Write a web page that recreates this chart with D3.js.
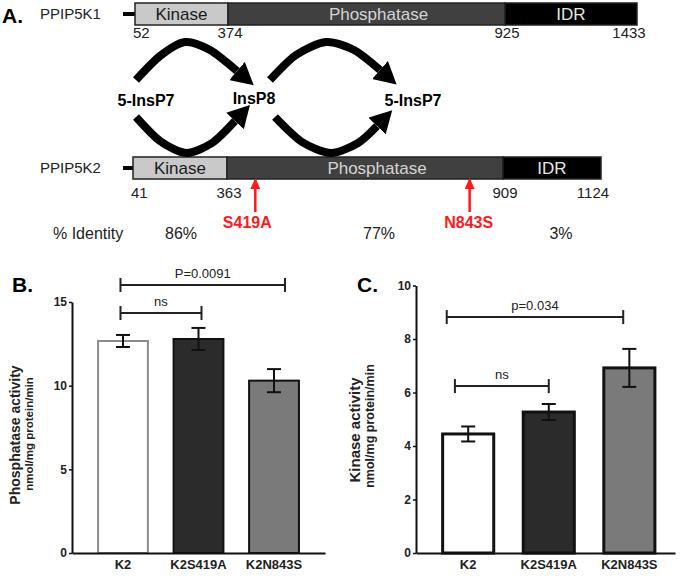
<!DOCTYPE html>
<meta charset="utf-8">
<script src="https://d3js.org/d3.v7.min.js"></script>
<style>
  body { margin: 0; background: #fff; }
  svg text { font-family: "Liberation Sans", Arial, sans-serif; }
</style>
<div id="fig"></div>
<script>

// ---- values ----
var groups = ["K2", "K2S419A", "K2N843S"];
var phosMean = [12.67, 12.79, 10.3];
var phosSem = [0.36, 0.66, 0.69];
var kinMean = [4.45, 5.27, 6.92];
var kinSem = [0.28, 0.30, 0.71];
var phosTicks = [0, 5, 10, 15];
var kinTicks = [0, 2, 4, 6, 8, 10];
var phosStats = [{a: 0, b: 1, level: 14.34, label: "ns"}, {a: 0, b: 2, level: 16.02, label: "P=0.0091"}];
var kinStats = [{a: 0, b: 1, level: 6.24, label: "ns"}, {a: 0, b: 2, level: 8.82, label: "p=0.034"}];

var domainNames = ["Kinase", "Phosphatase", "IDR"];
var k1Bounds = [52, 374, 925, 1433];
var k2Bounds = [41, 363, 909, 1124];
var identity = ["86%", "77%", "3%"];
var mutations = [419, 843];
var mutationLabels = ["S419A", "N843S"];
var species = ["5-InsP7", "InsP8", "5-InsP7"];

// ---- styles ----
var domainFill = ["#c9c9c9", "#404040", "#000000"];
var domainText = ["#1a1a1a", "#d4d4d4", "#e6e6e6"];
var domainTextDx = [0, 12, 0];
var barFill = ["#ffffff", "#2b2b2b", "#7a7a7a"];
var red = "#ff1a1a";

var svg = d3.select("#fig").append("svg")
    .attr("width", 685)
    .attr("height", 576);
svg.append("rect").attr("width", 685).attr("height", 576).attr("fill", "white");

var defs = svg.append("defs");
defs.append("marker")
    .attr("id", "head")
    .attr("viewBox", "0 -12 22 24")
    .attr("refX", 0).attr("refY", 0)
    .attr("markerUnits", "userSpaceOnUse")
    .attr("markerWidth", 22).attr("markerHeight", 24)
    .attr("orient", "auto")
  .append("path").attr("d", "M0,-12L22,0L0,12Z").attr("fill", "black");
defs.append("marker")
    .attr("id", "redhead")
    .attr("viewBox", "0 -5 11 10")
    .attr("refX", 9).attr("refY", 0)
    .attr("markerUnits", "userSpaceOnUse")
    .attr("markerWidth", 11).attr("markerHeight", 10)
    .attr("orient", "auto")
  .append("path").attr("d", "M0,-5L11,0L0,5Z").attr("fill", red);

// ================= A. domain diagram =================
svg.append("text").attr("x", 2).attr("y", 23)
    .attr("font-size", 21).attr("font-weight", "bold").text("A.");

function proteinBar(name, bounds, range, top, numY) {
  var h = 22, mid = top + h / 2;
  var x = d3.scaleLinear().domain(bounds).range(range);
  var g = svg.append("g");
  g.append("text").attr("x", 40).attr("y", mid).attr("dy", "0.35em")
      .attr("font-size", 15).attr("fill", "#222").text(name);
  g.append("line").attr("x1", 123).attr("x2", range[0]).attr("y1", mid).attr("y2", mid)
      .attr("stroke", "black").attr("stroke-width", 4);
  var segs = domainNames.map(function(d, i) { return {name: d, s: bounds[i], e: bounds[i + 1], i: i}; });
  g.selectAll("rect").data(segs).join("rect")
      .attr("x", function(d) { return x(d.s); })
      .attr("width", function(d) { return x(d.e) - x(d.s); })
      .attr("y", top).attr("height", h)
      .attr("fill", function(d) { return domainFill[d.i]; })
      .attr("stroke", "#222").attr("stroke-width", 1.5);
  g.selectAll("text.dom").data(segs).join("text").attr("class", "dom")
      .attr("x", function(d) { return (x(d.s) + x(d.e)) / 2 + domainTextDx[d.i]; })
      .attr("y", mid).attr("dy", "0.35em")
      .attr("text-anchor", "middle").attr("font-size", 17)
      .attr("fill", function(d) { return domainText[d.i]; })
      .text(function(d) { return d.name; });
  var n = bounds.length;
  g.selectAll("text.num").data(bounds).join("text").attr("class", "num")
      .attr("x", function(d, i) { return i == 0 ? x(d) - 2 : (i == n - 1 ? x(d) - 8 : x(d) + 2); })
      .attr("text-anchor", function(d, i) { return i == 0 ? "start" : "middle"; })
      .attr("y", numY).attr("dy", "0.35em")
      .attr("font-size", 15).attr("fill", "#222")
      .text(function(d) { return d; });
  return x;
}

var k1x = proteinBar("PPIP5K1", k1Bounds, [135, 228, 505, 637], 3, 33);
var k2x = proteinBar("PPIP5K2", k2Bounds, [133, 227, 503, 601], 157, 193);

// reaction scheme
var spX = [146, 254, 413];
svg.selectAll("text.sp").data(species).join("text").attr("class", "sp")
    .attr("x", function(d, i) { return spX[i]; })
    .attr("y", function(d, i) { return i == 1 ? 98 : 100; })
    .attr("dy", "0.35em").attr("text-anchor", "middle")
    .attr("font-size", 16).attr("font-weight", "bold").text(function(d) { return d; });

var arcs = [
  [[136, 80], [160, 56], [185, 42], [210, 50], [237, 71]],
  [[136, 117], [160, 141], [186, 153], [212, 143], [235, 121]],
  [[270, 80], [296, 55], [326, 42], [354, 50], [380, 70]],
  [[275, 117], [302, 142], [331, 153], [358, 143], [377, 126]]
];
var arcLine = d3.line().curve(d3.curveCardinal.tension(0.2));
svg.selectAll("path.arc").data(arcs).join("path").attr("class", "arc")
    .attr("d", arcLine)
    .attr("fill", "none").attr("stroke", "black").attr("stroke-width", 8)
    .attr("marker-end", "url(#head)");

// mutations on PPIP5K2
mutations.forEach(function(m, i) {
  var mx = k2x(m);
  svg.append("line").attr("x1", mx).attr("x2", mx).attr("y1", 212).attr("y2", 180)
      .attr("stroke", red).attr("stroke-width", 2.5).attr("marker-end", "url(#redhead)");
  svg.append("text").attr("x", mx - (i == 0 ? 8 : 1)).attr("y", 222).attr("dy", "0.35em")
      .attr("text-anchor", "middle").attr("font-size", 16).attr("font-weight", "bold")
      .attr("fill", red).text(mutationLabels[i]);
});

// % identity row
svg.append("text").attr("x", 53).attr("y", 233).attr("dy", "0.35em")
    .attr("font-size", 16).attr("fill", "#222").text("% Identity");
var idX = [k2x(k2Bounds[0]), k2x(k2Bounds[1]), k2x(k2Bounds[2]), k2x(k2Bounds[3])];
svg.selectAll("text.id").data(identity).join("text").attr("class", "id")
    .attr("x", function(d, i) { return (idX[i] + idX[i + 1]) / 2 + [1, 14, 9][i]; })
    .attr("y", 233).attr("dy", "0.35em").attr("text-anchor", "middle")
    .attr("font-size", 16).attr("fill", "#222").text(function(d) { return d; });

// ================= B. / C. bar charts =================
function barPanel(o) {
  var g = svg.append("g");
  var y = d3.scaleLinear().domain([0, o.max]).range([553, o.top]);
  var x = d3.scaleBand().domain(groups).range([o.left, o.right])
      .paddingInner(o.pi).paddingOuter(o.po).align(o.align);
  var bw = x.bandwidth();

  g.append("text").attr("x", o.letterX).attr("y", 285).attr("dy", "0.35em")
      .attr("font-size", 21).attr("font-weight", "bold").text(o.letter);

  // bars
  var rows = groups.map(function(d, i) { return {g: d, m: o.mean[i], s: o.sem[i], i: i}; });
  g.selectAll("rect").data(rows).join("rect")
      .attr("x", function(d) { return x(d.g); })
      .attr("width", bw)
      .attr("y", function(d) { return y(d.m); })
      .attr("height", function(d) { return y(0) - y(d.m); })
      .attr("fill", function(d) { return barFill[d.i]; })
      .attr("stroke", function(d) { return o.barStroke[d.i]; })
      .attr("stroke-width", o.barStrokeW);

  // error bars
  var eb = g.selectAll("g.err").data(rows).join("g").attr("class", "err")
      .attr("stroke", "#111").attr("stroke-width", 2);
  eb.append("line")
      .attr("x1", function(d) { return x(d.g) + bw / 2; })
      .attr("x2", function(d) { return x(d.g) + bw / 2; })
      .attr("y1", function(d) { return y(d.m - d.s); })
      .attr("y2", function(d) { return y(d.m + d.s); });
  [-1, 1].forEach(function(sgn) {
    eb.append("line")
        .attr("x1", function(d) { return x(d.g) + bw / 2 - 7; })
        .attr("x2", function(d) { return x(d.g) + bw / 2 + 7; })
        .attr("y1", function(d) { return y(d.m + sgn * d.s); })
        .attr("y2", function(d) { return y(d.m + sgn * d.s); });
  });

  // axes
  var ya = g.append("g").attr("transform", "translate(" + o.left + ",0)")
      .call(d3.axisLeft(y).tickValues(o.ticks).tickSize(3).tickPadding(2).tickSizeOuter(0));
  ya.select(".domain").attr("stroke", "#111").attr("stroke-width", 2);
  ya.selectAll(".tick line").attr("stroke", "#111").attr("stroke-width", 1.5);
  ya.selectAll(".tick text").attr("font-size", 12).attr("font-weight", "bold").attr("fill", "#222")
      .style("font-family", "'Liberation Sans', Arial, sans-serif");

  var xa = g.append("g").attr("transform", "translate(0," + y(0) + ")")
      .call(d3.axisBottom(x).tickSize(0).tickPadding(7).tickSizeOuter(0));
  xa.select(".domain").attr("stroke", "#111").attr("stroke-width", 2);
  xa.selectAll(".tick text").attr("font-size", 13).attr("font-weight", "bold").attr("fill", "#222")
      .style("font-family", "'Liberation Sans', Arial, sans-serif");

  // significance brackets
  o.stats.forEach(function(s, k) {
    var x1 = x(groups[s.a]) + bw * o.ends[k][0];
    var x2 = x(groups[s.b]) + bw * o.ends[k][1];
    var yy = y(s.level);
    var b = g.append("g").attr("stroke", "#222").attr("stroke-width", 2);
    b.append("line").attr("x1", x1).attr("x2", x2).attr("y1", yy).attr("y2", yy);
    b.append("line").attr("x1", x1).attr("x2", x1).attr("y1", yy - 7).attr("y2", yy + 7);
    b.append("line").attr("x1", x2).attr("x2", x2).attr("y1", yy - 7).attr("y2", yy + 7);
    g.append("text").attr("x", (x1 + x2) / 2).attr("y", yy - 7)
        .attr("text-anchor", "middle").attr("font-size", 13).attr("fill", "#222").text(s.label);
  });

  // y label
  var lab = g.append("g").attr("font-weight", "bold").attr("fill", "#222").attr("text-anchor", "middle");
  lab.append("text").attr("transform", "translate(" + o.lab1[0] + "," + o.lab1[1] + ") rotate(-90)")
      .attr("dy", "0.35em").attr("font-size", o.lab1[2]).text(o.title);
  lab.append("text").attr("transform", "translate(" + o.lab2[0] + "," + o.lab2[1] + ") rotate(-90)")
      .attr("dy", "0.35em").attr("font-size", o.lab2[2]).text("nmol/mg protein/min");
}

barPanel({
  letter: "B.", letterX: 12,
  mean: phosMean, sem: phosSem, ticks: phosTicks, stats: phosStats,
  max: 15, top: 302, left: 72, right: 325, pi: 0.34, po: 0.345, align: 0.5,
  barStroke: ["#8c8c8c", "#111", "#111"], barStrokeW: 2,
  ends: [[0.45, 0.56], [0.45, 0.72]],
  title: "Phosphatase activity", lab1: [15, 435, 14], lab2: [29, 434, 11.5]
});

barPanel({
  letter: "C.", letterX: 357,
  mean: kinMean, sem: kinSem, ticks: kinTicks, stats: kinStats,
  max: 10, top: 285.5, left: 416, right: 675, pi: 0.366, po: 0.29, align: 0.57,
  barStroke: ["#111", "#111", "#111"], barStrokeW: 3,
  ends: [[0.24, 0.5], [0.08, 0.38]],
  title: "Kinase activity", lab1: [355, 430, 15], lab2: [370, 426, 12.5]
});

</script>
